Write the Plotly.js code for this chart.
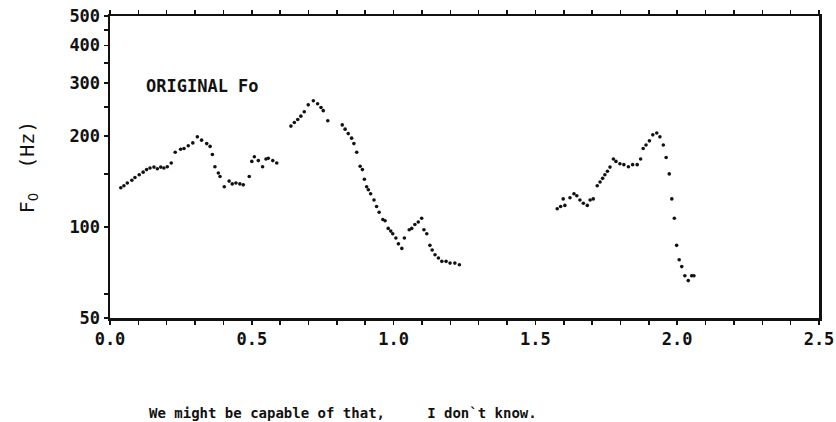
<!DOCTYPE html>
<html>
<head>
<meta charset="utf-8">
<script src="https://cdn.plot.ly/plotly-3.0.1.min.js"></script>
<style>html,body{margin:0;padding:0;background:#fff;}#chart{width:836px;height:422px;}</style>
</head>
<body>
<div id="chart"></div>
<script>
// Segment 1: "We might be capable of that"
const seg1Time = [0.038,0.049,0.061,0.077,0.088,0.103,0.117,0.129,0.141,0.155,0.167,0.179,0.190,0.202,0.216,0.230,0.249,0.261,0.276,0.292,0.308,0.323,0.341,0.353,0.361,0.370,0.382,0.388,0.403,0.420,0.431,0.444,0.458,0.470,0.491,0.500,0.509,0.523,0.538,0.550,0.558,0.574,0.588];
const seg1F0   = [135,137,140,143,146,149,152,155,157,158,156,158,157,158.5,163,177,181,182,186,190,199,194,189,185,174,158.5,151,147,136,142,139,140,139,138,147,165,171,166,158.5,168,169,166,163];
// Segment 2
const seg2Time = [0.638,0.650,0.662,0.673,0.685,0.699,0.717,0.732,0.744,0.752,0.768,0.819,0.829,0.840,0.852,0.860,0.870,0.882,0.890,0.897,0.905,0.911,0.919,0.931,0.940,0.949,0.962,0.970,0.981,0.990,0.997,1.008,1.017,1.029,1.038,1.055,1.064,1.075,1.087,1.099,1.107,1.117,1.128,1.136,1.146,1.158,1.170,1.185,1.199,1.216,1.232];
const seg2F0   = [216,222,227,233,241,254,262,256,249,243,225,218,211,204,197,189,177,159,155,144,136,133,129,123,117,112,106,105,99,97,95,92,88,85,92,98,99,102,104,107,98,95,87,84,81,79,77,77,76,76,75];
// Segment 3: "I don't know."
const seg3Time = [1.577,1.589,1.598,1.604,1.622,1.636,1.646,1.657,1.669,1.683,1.693,1.704,1.718,1.728,1.737,1.745,1.754,1.763,1.775,1.784,1.798,1.812,1.828,1.843,1.859,1.871,1.880,1.890,1.902,1.914,1.928,1.939,1.951,1.961,1.972,1.981,1.990,1.998,2.007,2.016,2.027,2.039,2.051,2.059];
const seg3F0   = [115,117,124,118,125,129,127,123,120,118,123,124,137,141,145,149,153,158,168,165,162,161,158.5,161,161,168,182,187,193,202,205,199,187,170,150,124,107,87,78,74,69,66.5,69,69];

// Axis ticks
const xTickVals   = [0, 0.5, 1.0, 1.5, 2.0, 2.5];
const xTickText   = ['0.0', '0.5', '1.0', '1.5', '2.0', '2.5'];
const xMinorTicks = [0.1,0.2,0.3,0.4,0.6,0.7,0.8,0.9,1.1,1.2,1.3,1.4,1.6,1.7,1.8,1.9,2.1,2.2,2.3,2.4];
const yTickVals   = [50, 100, 200, 300, 400, 500];
const yTickText   = ['50', '100', '200', '300', '400', '500'];
const yMinorTicks = [60, 150, 250, 350, 450];

const panelLabel = 'ORIGINAL Fo';
const sentence   = 'We might be capable of that,\u00a0\u00a0\u00a0\u00a0\u00a0I don`t know.';

const mono = '"DejaVu Sans Mono", "Liberation Mono", monospace';
const dotStyle = {size: 3.6, color: '#111'};

const traces = [
  {x: seg1Time, y: seg1F0, mode: 'markers', type: 'scatter', marker: dotStyle, showlegend: false},
  {x: seg2Time, y: seg2F0, mode: 'markers', type: 'scatter', marker: dotStyle, showlegend: false},
  {x: seg3Time, y: seg3F0, mode: 'markers', type: 'scatter', marker: dotStyle, showlegend: false}
];

const layout = {
  width: 836, height: 422,
  margin: {l: 110, r: 17, t: 16, b: 104},
  paper_bgcolor: '#fff', plot_bgcolor: '#fff',
  showlegend: false,
  font: {family: mono, color: '#111'},
  xaxis: {
    range: [0, 2.5],
    tickmode: 'array', tickvals: xTickVals, ticktext: xTickText,
    ticks: 'outside', ticklen: 4, tickwidth: 1.5, tickcolor: '#111',
    minor: {tickmode: 'array', tickvals: xMinorTicks, ticks: 'outside', ticklen: 4, tickwidth: 1.5, tickcolor: '#111', showgrid: false},
    showline: true, linecolor: '#111', linewidth: 2.5, mirror: 'ticks',
    showgrid: false, zeroline: false,
    tickfont: {family: mono, size: 17, color: '#111', weight: 'bold'}
  },
  yaxis: {
    type: 'log',
    range: [Math.log10(50), Math.log10(500)],
    tickmode: 'array', tickvals: yTickVals, ticktext: yTickText,
    ticks: 'outside', ticklen: 4, tickwidth: 1.5, tickcolor: '#111',
    minor: {tickmode: 'array', tickvals: yMinorTicks, ticks: 'outside', ticklen: 4, tickwidth: 1.5, tickcolor: '#111', showgrid: false},
    showline: true, linecolor: '#111', linewidth: 2.5, mirror: true,
    showgrid: false, zeroline: false,
    tickfont: {family: mono, size: 17, color: '#111', weight: 'bold'},
    title: {text: 'F<sub>O</sub>  (Hz)', font: {family: mono, size: 20, color: '#111'}, standoff: 30}
  },
  annotations: [
    {xref: 'paper', yref: 'paper', x: 0.048, y: 0.767, xanchor: 'left', yanchor: 'middle',
     text: panelLabel, showarrow: false, font: {family: mono, size: 17, color: '#111', weight: 'bold'}},
    {xref: 'paper', yref: 'paper', x: 0.052, y: -0.313, xanchor: 'left', yanchor: 'middle',
     text: sentence, showarrow: false, font: {family: mono, size: 14, color: '#111', weight: 'bold'}}
  ]
};

Plotly.newPlot('chart', traces, layout, {displayModeBar: false, staticPlot: true});
</script>
</body>
</html>
